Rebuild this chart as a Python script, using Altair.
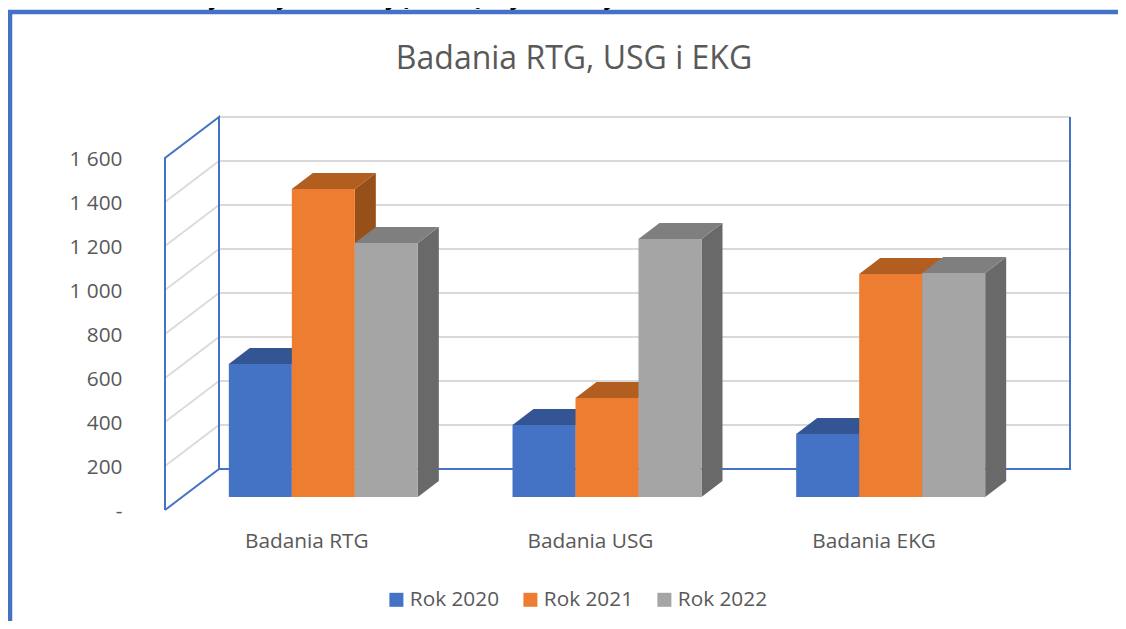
import altair as alt
import pandas as pd

# ---- chart values
categories = ["Badania RTG", "Badania USG", "Badania EKG"]
series = ["Rok 2020", "Rok 2021", "Rok 2022"]
rok_2020 = [605, 327, 286]
rok_2021 = [1400, 450, 1014]
rok_2022 = [1155, 1173, 1018]
tick_values = [0, 200, 400, 600, 800, 1000, 1200, 1400, 1600]
grid_values = [200, 400, 600, 800, 1000, 1200, 1400]
title_text = "Badania RTG, USG i EKG"
intro_text = "Poniższe wykresy obrazują skalę wykonanych badań w latach 2020-2022."

# ---- colours
front = ["#4472C4", "#ED7D31", "#A5A5A5"]
top_face = ["#335593", "#B25E21", "#7F7F7F"]
side_face = ["#2A4A82", "#97501A", "#696969"]
BLUE = "#4472C4"
GRID = "#D9D9D9"
TEXT = "#595959"
FONT = "Open Sans"
FS = 20.8

# ---- geometry of the fake 3D box, in data units
W, H = 1110, 613
UNIT = 283.67
PXV = 0.22
x_scale = alt.Scale(domain=[-157 / UNIT, (W - 157) / UNIT], nice=False, zero=False)
y_scale = alt.Scale(domain=[(502 - H) / PXV, 502 / PXV], nice=False, zero=False)
WALL_DX, WALL_DZ = 54 / UNIT, 41 / PXV
BAR_SHIFT_X, BAR_BASE = 16.5 / UNIT, 13 / PXV
BAR_W = 63 / UNIT
BAR_DX, BAR_DZ = 21 / UNIT, 16 / PXV

AXIS = alt.Axis(
    values=tick_values, title=None, domain=False, ticks=False, grid=False,
    offset=-114, labelPadding=0, labelOffset=1, labelFont=FONT, labelFontSize=FS, labelColor=TEXT,
    labelExpr="datum.value == 0 ? '-' : replace(format(datum.value, ','), ',', ' ')")

X = alt.X("x:Q", scale=x_scale, axis=None)
X2 = alt.X2("x2:Q")
Y = alt.Y("y:Q", scale=y_scale, axis=AXIS, stack=None)
Y2 = alt.Y2("y2:Q")

layers = []

# frame
layers.append(alt.Chart(pd.DataFrame({"a": [0]})).mark_rule(color=BLUE, strokeWidth=4.5).encode(
    x=alt.value(2), y=alt.value(2), y2=alt.value(H)))
layers.append(alt.Chart(pd.DataFrame({"a": [0]})).mark_rule(color=BLUE, strokeWidth=4.5).encode(
    x=alt.value(0), x2=alt.value(W), y=alt.value(4)))

# back wall grid
back = pd.DataFrame({"x": [WALL_DX] * 8, "x2": [WALL_DX + 3] * 8,
                     "y": [v + WALL_DZ for v in grid_values + [1600]]})
layers.append(alt.Chart(back).mark_rule(color=GRID, strokeWidth=2).encode(
    x=X, x2=X2, y=alt.Y("y:Q", scale=y_scale, axis=AXIS)))

# left wall grid
rows = []
for v in grid_values:
    rows += [{"v": v, "x": 0, "y": v}, {"v": v, "x": WALL_DX, "y": v + WALL_DZ}]
layers.append(alt.Chart(pd.DataFrame(rows)).mark_line(color=GRID, strokeWidth=1.6).encode(
    x=X, y=Y, detail="v:N"))

# blue box outline
outline = [
    [(0, 0), (0, 1600), (WALL_DX, 1600 + WALL_DZ), (WALL_DX, WALL_DZ), (0, 0)],
    [(WALL_DX, WALL_DZ), (WALL_DX + 3, WALL_DZ), (WALL_DX + 3, 1600 + WALL_DZ)],
]
rows = []
for k, path in enumerate(outline):
    for o, (a, b) in enumerate(path):
        rows.append({"k": k, "o": o, "x": a, "y": b})
layers.append(alt.Chart(pd.DataFrame(rows)).mark_line(color=BLUE, strokeWidth=2).encode(
    x=X, y=Y, detail="k:N", order="o:Q"))

# bars: painted left to right so that each one hides the side of the previous one
all_vals = [rok_2020, rok_2021, rok_2022]
for s, vals in enumerate(all_vals):
    tops, sides, fronts = [], [], []
    for i, v in enumerate(vals):
        x0 = i + 0.5 + BAR_SHIFT_X - 1.5 * BAR_W + s * BAR_W
        x1 = x0 + BAR_W
        ytop = v + BAR_BASE
        tops += [{"b": i, "y": ytop, "x": x0, "x2": x1},
                 {"b": i, "y": ytop + BAR_DZ, "x": x0 + BAR_DX, "x2": x1 + BAR_DX}]
        sides += [{"b": i, "x": x1, "y": ytop, "y2": BAR_BASE},
                  {"b": i, "x": x1 + BAR_DX, "y": ytop + BAR_DZ, "y2": BAR_BASE + BAR_DZ}]
        fronts.append({"x": x0, "x2": x1, "y": ytop, "y2": BAR_BASE, "Rok": series[s]})
    layers.append(alt.Chart(pd.DataFrame(sides)).mark_area(color=side_face[s]).encode(
        x=X, y=Y, y2=Y2, detail="b:N"))
    layers.append(alt.Chart(pd.DataFrame(tops)).mark_area(color=top_face[s], orient="horizontal").encode(
        y=Y, x=X, x2=X2, detail="b:N"))
    layers.append(alt.Chart(pd.DataFrame(fronts)).mark_rect().encode(
        x=X, x2=X2, y=Y, y2=Y2,
        color=alt.Color("Rok:N", scale=alt.Scale(domain=series, range=front), legend=alt.Legend(
            title=None, orient="none", direction="horizontal", legendX=378, legendY=581,
            symbolType="square", symbolSize=196, symbolStrokeWidth=0, labelFont=FONT,
            labelFontSize=FS, labelColor=TEXT, labelOffset=3, columnPadding=20, columns=3))))

# category labels
cat = pd.DataFrame({"c": categories, "x": [i + 0.5 for i in range(3)]})
layers.append(alt.Chart(cat).mark_text(font=FONT, fontSize=FS, color=TEXT).encode(
    x=X, y=alt.value(534), text="c:N"))

# sentence above the chart, cut by the top edge as in the source picture
layers.append(alt.Chart(pd.DataFrame({"t": [intro_text]})).mark_text(
    font="Open Sans", fontSize=27.5, color="#000000", baseline="alphabetic").encode(
    x=alt.value(525.5), y=alt.value(-5), text="t:N"))

chart = alt.layer(*layers).resolve_scale(x="shared", y="shared").properties(
    width=W, height=H, padding=0, autosize=alt.AutoSizeParams(type="none"),
    title=alt.TitleParams(title_text, font=FONT, fontSize=32, fontWeight="normal", color=TEXT,
                          anchor="middle", dx=11, dy=99),
).configure_view(stroke=None)

chart.save("out.html", embed_options={"renderer": "svg", "actions": False})
